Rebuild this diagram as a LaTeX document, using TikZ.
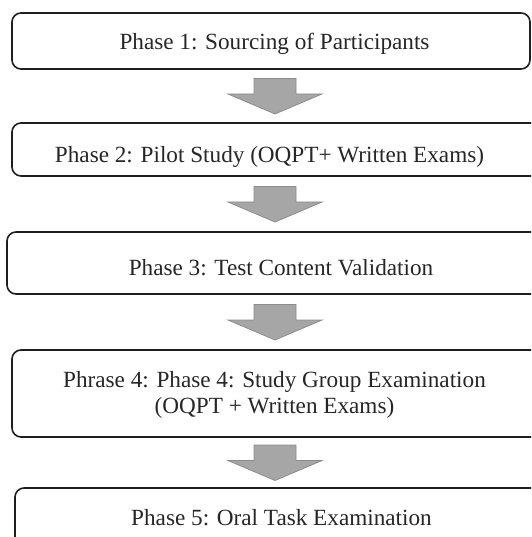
\documentclass[tikz,border=0pt]{standalone}
\usepackage{fontspec}
\setmainfont{Liberation Serif}
\usetikzlibrary{calc}
\definecolor{ArrowGray}{RGB}{166,166,166}
\definecolor{ArrowEdge}{RGB}{140,140,140}
\definecolor{BoxLine}{RGB}{30,30,30}
\newcommand\phasearrow[2]{\coordinate (mid) at ($(#1.south)!.5!(#2.north)$);
  \draw[blockarrow] ($(mid -| ax)+(-21,-17.5)$) -- ++(42,0) -- ++(0,15.5) -- ++(26,0) -- ++(-47,20) -- ++(-47,-20) -- ++(26,0) -- cycle;}
\begin{document}
\begin{tikzpicture}[x=1pt,y=-1pt,
  phasebox/.style={draw=BoxLine,line width=1.6pt,rounded corners=9pt,inner sep=0pt},
  phasetext/.style={font=\fontsize{23.2}{26}\selectfont,text=black!85,align=center,inner sep=0pt},
  blockarrow/.style={fill=ArrowGray,draw=ArrowEdge,line width=.8pt}]
\useasboundingbox (0,0) rectangle (531,537);\clip (0,0) rectangle (531,537);
\coordinate (ax) at (275,0);
\node[phasebox,minimum width=518pt,minimum height=56pt] (box1) at (271,41) {};
\node[phasebox,minimum width=533pt,minimum height=53pt] (box2) at (278.5,149.5) {};
\node[phasebox,minimum width=538pt,minimum height=62pt] (box3) at (276,263) {};
\node[phasebox,minimum width=533pt,minimum height=87pt] (box4) at (278.5,393.5) {};
\node[phasebox,minimum width=530pt,minimum height=82pt] (box5) at (280,529) {};
\node[phasetext,anchor=base] (txt1) at (274.5,50) {Phase 1: Sourcing of Participants};
\node[phasetext,anchor=base] (txt2) at (269.5,163) {Phase 2: Pilot Study (OQPT+ Written Exams)};
\node[phasetext,anchor=base] (txt3) at (281,275) {Phase 3: Test Content Validation};
\node[phasetext] (txt4) at (274.5,395) {Phrase 4: Phase 4: Study Group Examination\\(OQPT + Written Exams)};
\node[phasetext,anchor=base] (txt5) at (281.5,525) {Phase 5: Oral Task Examination};
\phasearrow{box1}{box2}\phasearrow{box2}{box3}\phasearrow{box3}{box4}\phasearrow{box4}{box5}
\end{tikzpicture}
\end{document}
